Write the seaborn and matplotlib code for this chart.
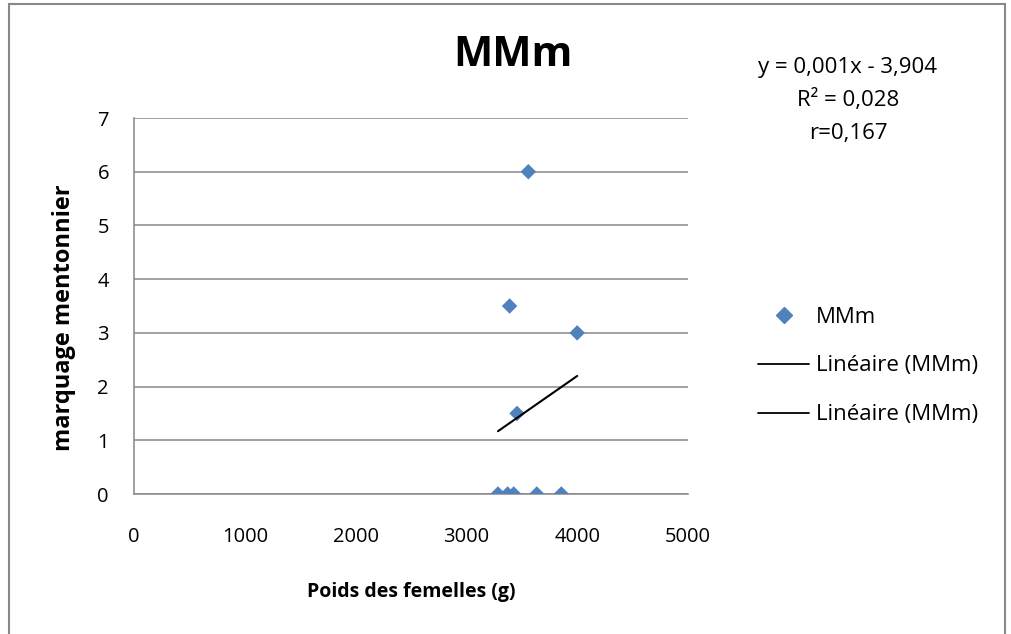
import matplotlib
matplotlib.use("Agg")
import matplotlib.pyplot as plt
import seaborn as sns
import pandas as pd
from matplotlib.lines import Line2D
from matplotlib.patches import Rectangle

# Data
poids = [3285, 3372, 3427, 3635, 3857, 3559, 3390, 4000, 3457]
marquage = [0, 0, 0, 0, 0, 6, 3.5, 3, 1.5]
x_ticks = [0, 1000, 2000, 3000, 4000, 5000]
y_ticks = [0, 1, 2, 3, 4, 5, 6, 7]
title = "MMm"
xlabel = "Poids des femelles (g)"
ylabel = "marquage mentonnier"
equation_lines = ["y = 0,001x - 3,904", "R\u00b2 = 0,028", "r=0,167"]
legend_labels = ["MMm", "Lin\u00e9aire (MMm)", "Lin\u00e9aire (MMm)"]

df = pd.DataFrame({"poids": poids, "marquage": marquage})

sns.set_theme(style="white")
plt.rcParams["font.family"] = ["Open Sans", "DejaVu Sans"]
plt.rcParams["text.color"] = "black"
plt.rcParams["axes.labelcolor"] = "black"

W, H = 1011, 634
fig = plt.figure(figsize=(W / 100, H / 100), dpi=100)
ax = fig.add_axes([134 / W, 1 - 494 / H, 554 / W, 376 / H])

blue = "#4F81BD"
grid_c = "#888888"

sns.regplot(data=df, x="poids", y="marquage", ax=ax, ci=None, truncate=True,
            marker="D",
            scatter_kws=dict(s=62, color=blue, alpha=1, edgecolor="none", zorder=3),
            line_kws=dict(color="black", lw=1.5, zorder=4))

ax.set_xlim(0, 5000)
ax.set_ylim(0, 7)
ax.set_xticks(x_ticks)
ax.set_yticks(y_ticks)
ax.set_xticklabels([str(t) for t in x_ticks], fontsize=14.5)
ax.set_yticklabels([str(t) for t in y_ticks], fontsize=14.5)
ax.yaxis.grid(True, color=grid_c, lw=1.1)
ax.xaxis.grid(False)
ax.set_axisbelow(True)
for s in ["top", "right"]:
    ax.spines[s].set_visible(False)
for s in ["left", "bottom"]:
    ax.spines[s].set_color(grid_c)
    ax.spines[s].set_linewidth(1.1)
ax.tick_params(axis="x", direction="out", length=5.5, width=1.1, color=grid_c,
               labelcolor="black", pad=18)
ax.tick_params(axis="y", direction="out", length=6, width=1.1, color=grid_c,
               labelcolor="black", pad=12)
ax.set_xlabel(xlabel, fontsize=14, fontweight="bold", va="center")
ax.set_ylabel(ylabel, fontsize=17, fontweight="bold", va="center")
ax.xaxis.set_label_coords(0.5, (494 - 592) / 376)
ax.yaxis.set_label_coords((64 - 134) / 554, (494 - 318) / 376)

fig.text(513 / W, 1 - 55 / H, title, fontsize=30, fontweight="bold",
         ha="center", va="center")
for i, line in enumerate(equation_lines):
    fig.text(848 / W, 1 - (67 + 33 * i) / H, line, fontsize=16,
             ha="center", va="center")

handles = [
    Line2D([], [], marker="D", color=blue, linestyle="none", markersize=8),
    Line2D([], [], color="black", lw=1.3),
    Line2D([], [], color="black", lw=1.3),
]
fig.legend(handles, legend_labels, loc="center left",
           bbox_to_anchor=(738 / W, 1 - 366 / H), frameon=False,
           fontsize=16, handlelength=2.3, handletextpad=0.3, labelspacing=1.25)

fig.add_artist(Rectangle((9 / W, -0.02), (1005 - 9) / W, 1.02 - 4 / H,
                         transform=fig.transFigure, fill=False,
                         edgecolor="#888888", lw=1.5))

fig.savefig("out.png", dpi=100)
